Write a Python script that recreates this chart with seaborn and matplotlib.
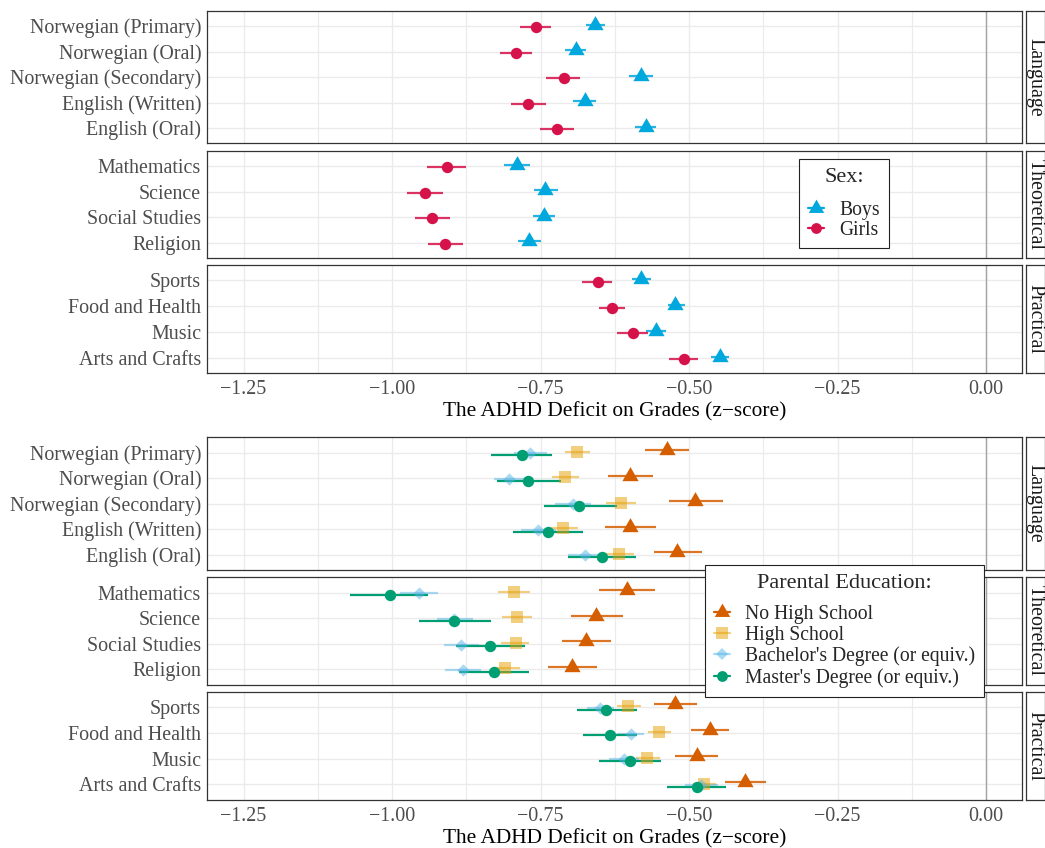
import numpy as np
import pandas as pd
import matplotlib.pyplot as plt
import seaborn as sns
from matplotlib.lines import Line2D

# subjects, top to bottom, grouped by domain
language = ["Norwegian (Primary)", "Norwegian (Oral)", "Norwegian (Secondary)",
            "English (Written)", "English (Oral)"]
theoretical = ["Mathematics", "Science", "Social Studies", "Religion"]
practical = ["Sports", "Food and Health", "Music", "Arts and Crafts"]
domains = ["Language", "Theoretical", "Practical"]
subjects = language + theoretical + practical

x_ticks = [-1.25, -1.00, -0.75, -0.50, -0.25, 0.00]
x_tick_labels = ["\u22121.25", "\u22121.00", "\u22120.75", "\u22120.50", "\u22120.25", "0.00"]

# --- sex estimates (same subject order)
boys_est = [-0.659, -0.691, -0.581, -0.675, -0.573, -0.790, -0.742, -0.744, -0.769, -0.581, -0.523, -0.556, -0.448]
boys_lo = [-0.674, -0.708, -0.601, -0.696, -0.591, -0.811, -0.761, -0.763, -0.788, -0.596, -0.536, -0.572, -0.463]
boys_hi = [-0.642, -0.674, -0.561, -0.656, -0.555, -0.768, -0.721, -0.725, -0.750, -0.564, -0.507, -0.539, -0.432]
girls_est = [-0.758, -0.792, -0.711, -0.771, -0.722, -0.907, -0.944, -0.932, -0.911, -0.654, -0.630, -0.594, -0.509]
girls_lo = [-0.784, -0.819, -0.740, -0.800, -0.751, -0.941, -0.975, -0.962, -0.940, -0.680, -0.652, -0.621, -0.533]
girls_hi = [-0.733, -0.765, -0.683, -0.741, -0.694, -0.875, -0.914, -0.903, -0.880, -0.629, -0.607, -0.569, -0.485]

# --- parental education estimates
nohs_est = [-0.537, -0.599, -0.490, -0.599, -0.520, -0.605, -0.657, -0.673, -0.697, -0.524, -0.465, -0.487, -0.405]
nohs_lo = [-0.574, -0.637, -0.534, -0.641, -0.559, -0.651, -0.699, -0.714, -0.738, -0.559, -0.496, -0.523, -0.439]
nohs_hi = [-0.500, -0.560, -0.443, -0.556, -0.478, -0.557, -0.612, -0.632, -0.655, -0.487, -0.432, -0.451, -0.370]
hs_est = [-0.688, -0.709, -0.614, -0.713, -0.618, -0.794, -0.789, -0.792, -0.809, -0.602, -0.551, -0.570, -0.475]
hs_lo = [-0.709, -0.730, -0.640, -0.733, -0.640, -0.821, -0.815, -0.817, -0.831, -0.622, -0.569, -0.590, -0.494]
hs_hi = [-0.667, -0.686, -0.589, -0.687, -0.593, -0.767, -0.764, -0.769, -0.784, -0.581, -0.531, -0.549, -0.455]
bach_est = [-0.768, -0.803, -0.695, -0.754, -0.676, -0.955, -0.896, -0.884, -0.881, -0.650, -0.598, -0.610, -0.480]
bach_lo = [-0.795, -0.829, -0.725, -0.783, -0.704, -0.987, -0.925, -0.912, -0.910, -0.672, -0.621, -0.635, -0.506]
bach_hi = [-0.739, -0.778, -0.665, -0.724, -0.648, -0.922, -0.864, -0.854, -0.851, -0.626, -0.576, -0.584, -0.452]
mast_est = [-0.782, -0.771, -0.685, -0.738, -0.647, -1.004, -0.896, -0.835, -0.828, -0.639, -0.633, -0.599, -0.487]
mast_lo = [-0.834, -0.823, -0.744, -0.797, -0.703, -1.070, -0.955, -0.893, -0.888, -0.689, -0.679, -0.651, -0.537]
mast_hi = [-0.730, -0.716, -0.622, -0.679, -0.590, -0.939, -0.834, -0.776, -0.769, -0.587, -0.588, -0.547, -0.438]

sns.set_theme(style="white")
plt.rcParams['font.family'] = ['Liberation Serif', 'DejaVu Serif']

W, H = 1045, 848
fig = plt.figure(figsize=(W / 100, H / 100), dpi=100)

# equilateral triangle, centroid at origin
tri = [(-1, -0.577), (1, -0.577), (0, 1.155)]


def make_long(groups):
    rows = []
    for name, est, lo, hi in groups:
        for s, e, l, h in zip(subjects, est, lo, hi):
            d = "Language" if s in language else ("Theoretical" if s in theoretical else "Practical")
            rows.append(dict(subject=s, domain=d, group=name, est=e, lo=l, hi=h))
    return pd.DataFrame(rows)


sex_df = make_long([("Boys", boys_est, boys_lo, boys_hi),
                    ("Girls", girls_est, girls_lo, girls_hi)])
edu_df = make_long([("No High School", nohs_est, nohs_lo, nohs_hi),
                    ("High School", hs_est, hs_lo, hs_hi),
                    ("Bachelor's Degree (or equiv.)", bach_est, bach_lo, bach_hi),
                    ("Master's Degree (or equiv.)", mast_est, mast_lo, mast_hi)])

# style per group: color, marker, marker size (pt), point alpha, line alpha, dodge
sex_style = {
    "Boys": ("#00A8DE", tri, 13.5, 1.0, 0.85, -0.05),
    "Girls": ("#D5124A", "o", 8.2, 1.0, 0.85, 0.05),
}
edu_style = {
    "No High School": ("#D55E00", tri, 13.5, 1.0, 0.85, -0.10),
    "High School": ("#E69F00", "s", 8.8, 0.5, 0.5, -0.033),
    "Bachelor's Degree (or equiv.)": ("#56B4E9", "D", 6.3, 0.5, 0.5, 0.033),
    "Master's Degree (or equiv.)": ("#009E73", "o", 8.2, 1.0, 1.0, 0.10),
}

# panel pixel boxes (top, bottom) per facet for the upper figure
facet_px = [(10.7, 143.3), (150.7, 258.0), (265.0, 373.3)]
shift = 426.6
left_px, right_px = 206.7, 1022.3
strip_l, strip_r = 1025.7, 1045.0


def rect(l, t, r, b):
    return [l / W, 1 - b / H, (r - l) / W, (b - t) / H]


def draw_group(df, style, offset_px):
    for i, dom in enumerate(domains):
        t, b = facet_px[i]
        t += offset_px
        b += offset_px
        ax = fig.add_axes(rect(left_px, t, right_px, b))
        subs = [language, theoretical, practical][i]
        n = len(subs)
        ax.set_xlim(-1.312, 0.061)
        ax.set_ylim(n - 0.4, -0.6)
        ax.set_xticks(x_ticks)
        ax.set_xticks(np.arange(-1.25, 0.0, 0.25) + 0.125, minor=True)
        ax.set_yticks(range(n))
        ax.set_yticklabels(subs)
        ax.grid(which='major', color='#EBEBEB', lw=1.0)
        ax.grid(which='minor', axis='x', color='#EBEBEB', lw=0.8)
        ax.set_axisbelow(True)
        ax.axvline(0, color='#A3A3A3', lw=1.0, zorder=1.5)
        for sp in ax.spines.values():
            sp.set_color('#333333')
            sp.set_linewidth(0.9)
        ax.tick_params(which='major', color='#333333', length=3, width=0.8,
                       labelsize=14.4, labelcolor='#4D4D4D', pad=1)
        ax.tick_params(which='minor', length=0)
        if i < 2:
            ax.tick_params(axis='x', bottom=False, labelbottom=False)
        else:
            ax.set_xticklabels(x_tick_labels)
            ax.tick_params(axis='x', pad=2)
            ax.set_xlabel("The ADHD Deficit on Grades (z\u2212score)", fontsize=15.4,
                          color='black', labelpad=2)
        ax.set_ylabel("")

        sub = df[df.domain == dom]
        for g, (col, mk, ms, pa, la, dy) in style.items():
            gd = sub[sub.group == g]
            yy = np.array([subs.index(s) for s in gd.subject]) + dy
            ax.hlines(yy, gd.lo, gd.hi, color=col, lw=1.6, alpha=la, zorder=3)
            sns.scatterplot(x=gd.est.values, y=yy, ax=ax, color=col, marker=mk,
                            s=ms ** 2, alpha=pa, linewidth=0, legend=False, zorder=4)

        sax = fig.add_axes(rect(strip_l, t, strip_r, b))
        sax.set_xticks([])
        sax.set_yticks([])
        sax.set_facecolor('white')
        for sp in sax.spines.values():
            sp.set_color('#333333')
            sp.set_linewidth(0.9)
        sax.text(0.5, 0.5, dom, rotation=-90, ha='center', va='center',
                 fontsize=14.4, color='#1A1A1A', transform=sax.transAxes, clip_on=True)


draw_group(sex_df, sex_style, 0)
draw_group(edu_df, edu_style, shift)


def legend(style, title, anchor, spacing, title_gap):
    handles = [Line2D([], [], color=c, marker=m, markersize=ms * 0.95, lw=1.6,
                      alpha=pa, markeredgewidth=0) for c, m, ms, pa, la, dy in style.values()]
    leg = fig.legend(handles, list(style.keys()), title=title, loc='upper left',
                     bbox_to_anchor=anchor, frameon=True, fancybox=False,
                     edgecolor='#222222', framealpha=1, fontsize=14.1,
                     title_fontsize=16, borderpad=0.45, handlelength=0.85,
                     handletextpad=0.75, labelspacing=spacing, borderaxespad=0)
    leg.get_frame().set_linewidth(0.8)
    # extra room between the title and the keys, as in the ggplot legend
    leg._legend_box.sep = title_gap
    return leg


legend(sex_style, "Sex:", (799 / W, 1 - 159 / H), 0.05, 10)
legend(edu_style, "Parental Education:", (705 / W, 1 - 564.7 / H), 0.09, 9)

fig.savefig("out.png", dpi=100)
